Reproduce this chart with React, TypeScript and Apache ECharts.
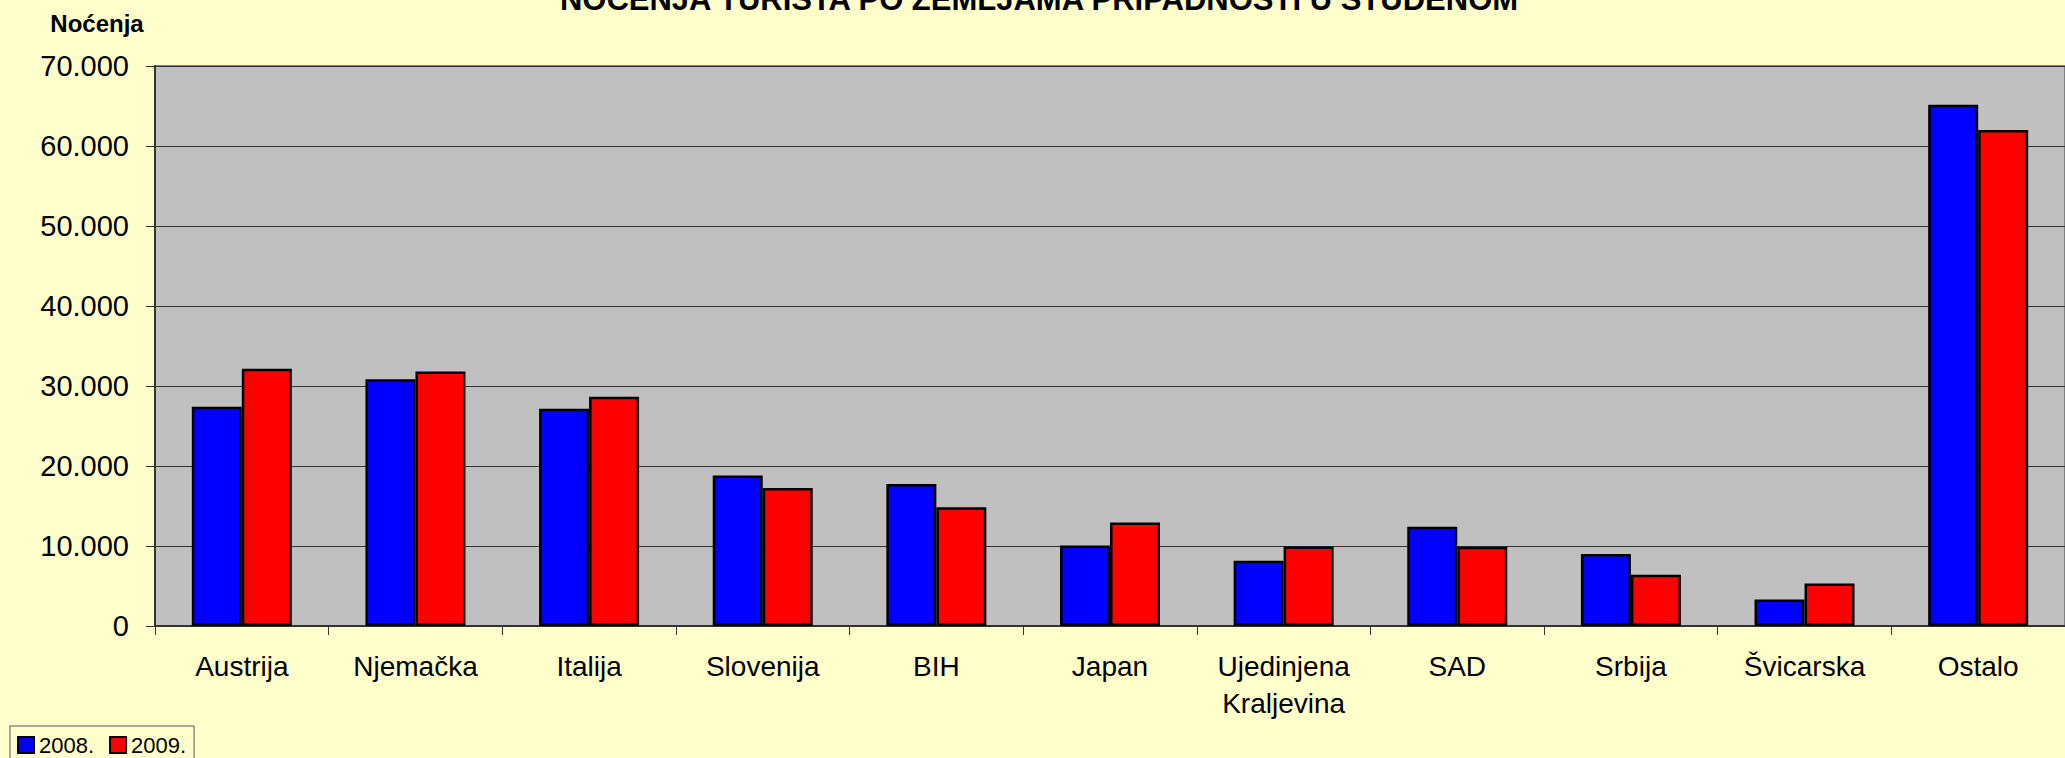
import React, { useEffect, useRef } from "react";
import * as echarts from "echarts";

const categories = [
  "Austrija",
  "Njemačka",
  "Italija",
  "Slovenija",
  "BIH",
  "Japan",
  "Ujedinjena\nKraljevina",
  "SAD",
  "Srbija",
  "Švicarska",
  "Ostalo",
];
const values2008 = [27400, 30850, 27150, 18800, 17750, 10050, 8150, 12400, 9000, 3300, 65150];
const values2009 = [32150, 31800, 28650, 17250, 14850, 12950, 9950, 9900, 6400, 5300, 62000];
const seriesNames = ["2008.", "2009."];
const yMin = 0;
const yMax = 70000;
const yStep = 10000;

const FONT = '"Liberation Sans", Arial, sans-serif';

function fmt(v: number): string {
  return String(v).replace(/\B(?=(\d{3})+(?!\d))/g, ".");
}

export default function App() {
  const ref = useRef<HTMLDivElement>(null);
  useEffect(() => {
    if (!ref.current) return;
    const chart = echarts.init(ref.current, null, { renderer: "svg" });
    const barStyle = (color: string) => ({
      color,
      borderColor: "#000000",
      borderWidth: 2.5,
    });
    chart.setOption({
      animation: false,
      backgroundColor: "#FFFFCC",
      textStyle: { fontFamily: FONT },
      graphic: [
        {
          type: "text",
          x: 1039,
          y: -1,
          style: {
            text: "NOĆENJA TURISTA PO ZEMLJAMA PRIPADNOSTI U STUDENOM",
            font: `bold 31px ${FONT}`,
            fill: "#000",
            align: "center",
            verticalAlign: "middle",
          },
        },
        {
          type: "text",
          x: 97,
          y: 23,
          style: {
            text: "Noćenja",
            font: `bold 24px ${FONT}`,
            fill: "#000",
            align: "center",
            verticalAlign: "middle",
          },
        },
      ],
      legend: {
        left: 10,
        top: 726,
        orient: "horizontal",
        padding: [8, 8, 8, 7],
        itemGap: 15,
        itemWidth: 16,
        itemHeight: 16,
        icon: "rect",
        borderColor: "#555555",
        borderWidth: 1,
        backgroundColor: "#FFFFCC",
        textStyle: { fontSize: 22, color: "#000", fontFamily: FONT },
        data: seriesNames,
      },
      grid: {
        left: 155,
        top: 66,
        width: 1923,
        height: 560,
        show: true,
        backgroundColor: "#C0C0C0",
        borderColor: "#808080",
        borderWidth: 2,
        containLabel: false,
      },
      xAxis: {
        type: "category",
        data: categories,
        axisLine: { show: true, lineStyle: { color: "#333333", width: 2 } },
        axisTick: { show: true, length: 9, lineStyle: { color: "#333333", width: 1 } },
        axisLabel: {
          color: "#000",
          fontSize: 28,
          fontFamily: FONT,
          margin: 22,
          lineHeight: 37,
          interval: 0,
        },
        splitLine: { show: false },
      },
      yAxis: {
        type: "value",
        min: yMin,
        max: yMax,
        interval: yStep,
        axisLine: { show: true, lineStyle: { color: "#333333", width: 2 } },
        axisTick: { show: true, length: 9, lineStyle: { color: "#333333", width: 1 } },
        axisLabel: {
          color: "#000",
          fontSize: 29,
          fontFamily: FONT,
          margin: 26,
          formatter: (v: number) => fmt(v),
        },
        splitLine: { show: true, lineStyle: { color: "#333333", width: 1 } },
      },
      series: [
        {
          name: seriesNames[0],
          type: "bar",
          data: values2008,
          barWidth: 50,
          barGap: "0%",
          itemStyle: barStyle("#0000FF"),
        },
        {
          name: seriesNames[1],
          type: "bar",
          data: values2009,
          barWidth: 50,
          barGap: "0%",
          itemStyle: barStyle("#FF0000"),
        },
      ],
    });
    return () => chart.dispose();
  }, []);
  return (
    <div
      ref={ref}
      style={{ position: "fixed", left: 0, top: 0, width: 2065, height: 758 }}
    />
  );
}
